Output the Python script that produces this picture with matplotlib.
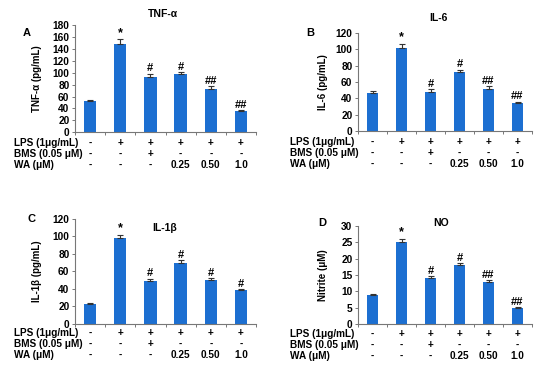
import matplotlib
matplotlib.use("Agg")
import matplotlib.pyplot as plt
import numpy as np

plt.rcParams['font.family'] = ['Liberation Sans', 'DejaVu Sans']
plt.rcParams['font.weight'] = 'bold'

# treatment table under each panel
row_labels = ["LPS (1μg/mL)", "BMS (0.05 μM)", "WA (μM)"]
lps = ["-", "+", "+", "+", "+", "+"]
bms = ["-", "-", "+", "-", "-", "-"]
wa = ["-", "-", "-", "0.25", "0.50", "1.0"]

# panel data
tnf = [53, 148, 93, 97, 73, 35]
tnf_err = [2, 8, 5, 4, 4, 2.5]
tnf_sig = ["", "*", "#", "#", "##", "##"]

il6 = [47, 102, 48, 72, 52, 34]
il6_err = [2, 5, 3, 3, 2.5, 2]
il6_sig = ["", "*", "#", "#", "##", "##"]

il1b = [22.5, 98, 49, 70, 50, 38]
il1b_err = [1.2, 4, 2.5, 3, 2.3, 1.6]
il1b_sig = ["", "*", "#", "#", "#", "#"]

no = [9, 25, 14, 18, 13, 5]
no_err = [0.3, 1.1, 0.7, 0.7, 0.5, 0.2]
no_sig = ["", "*", "#", "#", "##", "##"]

W, H = 550, 368
fig = plt.figure(figsize=(5.5, 3.68), dpi=100)
blue = '#1c6fd1'


def px_axes(x0, x1, ytop, ybot):
    return fig.add_axes([x0 / W, (H - ybot) / H, (x1 - x0) / W, (ybot - ytop) / H])


def panel(ax, vals, errs, sig, ymax, ystep, ylabel, label_x, row_x, row_dy):
    x = np.arange(len(vals))
    ax.bar(x, vals, width=0.41, color=blue, zorder=2)
    ax.errorbar(x, vals, yerr=[np.zeros(len(errs)), errs], fmt='none',
                ecolor='#333333', elinewidth=0.8, capsize=2, capthick=0.8, zorder=3)
    for i, s in enumerate(sig):
        if s:
            fs = 9 if s == "*" else 8
            ax.annotate(s, xy=(i, vals[i] + errs[i]), xytext=(0, 0.3),
                        textcoords='offset points', ha='center', va='bottom',
                        fontsize=fs, fontweight='bold')
    ax.set_xlim(-0.5, len(vals) - 0.5)
    ax.set_ylim(0, ymax)
    ax.set_yticks(np.arange(0, ymax + 0.1, ystep))
    ax.set_xticks(np.arange(-0.5, len(vals), 1.0))
    ax.set_xticklabels([])
    ax.tick_params(axis='both', direction='out', length=2.5, width=0.7,
                   color='#777777', labelsize=7.3, pad=1.5)
    for lab in ax.get_yticklabels():
        lab.set_fontweight('bold')
    for sp in ['top', 'right']:
        ax.spines[sp].set_visible(False)
    for sp in ['left', 'bottom']:
        ax.spines[sp].set_color('#777777')
        ax.spines[sp].set_linewidth(0.8)
    ax.set_ylabel(ylabel, fontsize=7, fontweight='bold')
    ax.yaxis.set_label_coords(label_x, 0.5)
    rows = [lps, bms, wa]
    for r, (name, vals_r) in enumerate(zip(row_labels, rows)):
        dy = row_dy + r * 7.9
        ax.annotate(name, xy=(row_x, 0), xycoords='axes fraction', xytext=(0, -dy),
                    textcoords='offset points', ha='left', va='center',
                    fontsize=7.2, fontweight='bold')
        for i, v in enumerate(vals_r):
            ax.annotate(v, xy=(i, 0), xycoords=('data', 'axes fraction'),
                        xytext=(0, -dy), textcoords='offset points',
                        ha='center', va='center', fontsize=7.2, fontweight='bold')


axA = px_axes(75, 256, 25, 132.3)
panel(axA, tnf, tnf_err, tnf_sig, 180, 20, "TNF-α (pg/mL)", -0.18, (14 - 75) / 181, 7.7)
axA.text(0.486, 1.1, "TNF-α", transform=axA.transAxes, ha='center', va='center',
         fontsize=7.5, fontweight='bold')

axB = px_axes(358, 532, 33, 131)
panel(axB, il6, il6_err, il6_sig, 120, 20, "IL-6 (pg/mL)", -0.17, (290 - 358) / 174, 7.7)
axB.text(0.46, 1.15, "IL-6", transform=axB.transAxes, ha='center', va='center',
         fontsize=7.5, fontweight='bold')

axC = px_axes(75, 256, 219, 323.5)
panel(axC, il1b, il1b_err, il1b_sig, 120, 20, "IL-1β (pg/mL)", -0.18, (14 - 75) / 181, 7.0)
axC.text(0.497, 0.91, "IL-1β", transform=axC.transAxes, ha='center', va='center',
         fontsize=7.5, fontweight='bold')

axD = px_axes(358, 532, 226, 324.2)
panel(axD, no, no_err, no_sig, 30, 5, "Nitrite (μM)", -0.175, (290 - 358) / 174, 7.0)
axD.text(0.48, 1.03, "NO", transform=axD.transAxes, ha='center', va='center',
         fontsize=7.5, fontweight='bold')

for letter, px, py in [("A", 27, 33), ("B", 310, 33), ("C", 32, 219), ("D", 322, 223)]:
    fig.text(px / W, 1 - py / H, letter, ha='center', va='center',
             fontsize=8, fontweight='bold')

fig.savefig("out.png", dpi=100)
